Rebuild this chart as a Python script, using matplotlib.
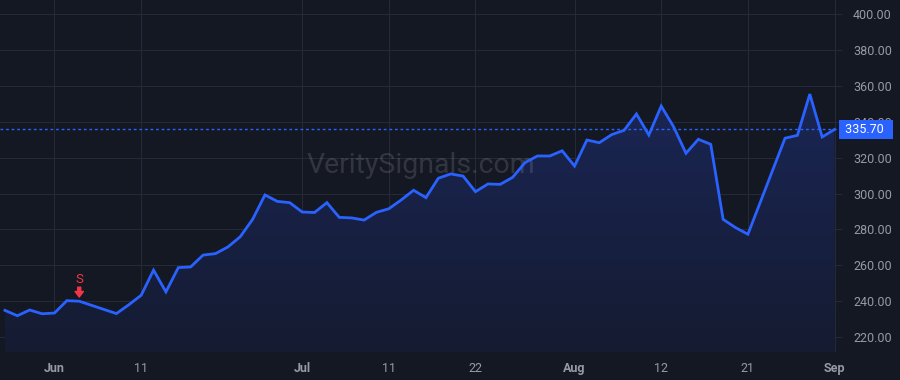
import matplotlib
matplotlib.use('Agg')
import matplotlib.pyplot as plt
import matplotlib.transforms as mtransforms
import numpy as np

# closing prices, one per trading session
prices = [234.9, 231.9, 235.1, 233.0, 233.4, 240.3, 240.0, 237.7, 235.4, 233.1,
          238.0, 243.3, 257.3, 245.2, 258.7, 259.1, 265.7, 266.5, 270.2, 275.9,
          285.6, 299.2, 295.6, 294.9, 289.7, 289.4, 294.9, 286.7, 286.4, 285.2,
          289.5, 291.5, 296.4, 301.8, 297.7, 308.5, 310.9, 309.7, 301.0, 305.3,
          305.1, 309.0, 317.2, 320.9, 320.9, 323.8, 315.3, 329.8, 328.3, 332.8,
          335.2, 344.3, 332.6, 348.7, 337.2, 322.4, 330.2, 327.4, 285.6, 281.0,
          277.3, 295.1, 313.0, 330.8, 332.4, 355.4, 331.5, 335.7]
tick_idx = [4, 11, 24, 31, 38, 46, 53, 60, 67]
tick_lbl = ['Jun', '11', 'Jul', '11', '22', 'Aug', '12', '21', 'Sep']
y_ticks = [220, 240, 260, 280, 300, 320, 340, 360, 380, 400]
last_price = 335.70
signal_idx = 6  # "S" marker

bg = '#141823'
grid_c = '#252a36'
line_c = '#2962ff'
text_c = '#959aa5'
red = '#f23645'

plt.rcParams['font.family'] = ['Roboto', 'DejaVu Sans']

fig = plt.figure(figsize=(9, 3.8), dpi=100, facecolor=bg)
ax = fig.add_axes([0, 28 / 380, 842 / 900, 352 / 380], facecolor=bg)

x = np.arange(len(prices))
ymin, ymax = 211.7, 407.8
ax.set_xlim(-0.4, 67.6)
ax.set_ylim(ymin, ymax)

# gradient fill under the line
poly = ax.fill_between(x, prices, ymin, color='none', lw=0)
grad = np.linspace(0, 1, 256).reshape(-1, 1)
cmap = matplotlib.colors.LinearSegmentedColormap.from_list('g', ['#151b31', '#1a2655'])
img = ax.imshow(grad, extent=[x[0], x[-1], ymin, max(prices)], origin='lower',
                aspect='auto', cmap=cmap, zorder=1)
img.set_clip_path(poly.get_paths()[0], transform=ax.transData)

ax.plot(x, prices, color=line_c, lw=2.0, zorder=3, solid_joinstyle='miter')

# last price line + label
ax.axhline(last_price, color=line_c, lw=1, ls=(0, (2, 2)), zorder=2)
trans = mtransforms.blended_transform_factory(ax.transAxes, ax.transData)
ax.text(1.0, last_price, ' 335.70  ', transform=trans, ha='left', va='center',
        color='white', fontsize=9, zorder=5, clip_on=False,
        bbox=dict(boxstyle='square,pad=0.22', fc=line_c, ec='none'))

# signal marker
sy = prices[signal_idx]
ax.annotate('', xy=(signal_idx, sy), xytext=(0, 14), textcoords='offset pixels',
            arrowprops=dict(arrowstyle='simple,head_length=0.4,head_width=0.6,tail_width=0.22',
                            color=red, shrinkA=0, shrinkB=3, mutation_scale=10), zorder=4)
ax.annotate('S', xy=(signal_idx, sy), xytext=(0, 22), textcoords='offset pixels',
            ha='center', va='center', color=red, fontsize=9.5, zorder=4)

# watermark
ax.text(0.5, 0.53, 'VeritySignals.com', transform=ax.transAxes, ha='center', va='center',
        fontsize=20.5, color='#ffffff', alpha=0.13, zorder=2)

# axes / grid
ax.set_xticks(tick_idx)
ax.set_xticklabels(tick_lbl)
for lbl, t in zip(ax.get_xticklabels(), tick_lbl):
    if not t.isdigit():
        lbl.set_fontweight('bold')
ax.set_yticks(y_ticks)
ax.set_yticklabels(['%.2f' % v for v in y_ticks])
ax.yaxis.tick_right()
ax.tick_params(axis='both', length=0, colors=text_c, labelsize=9)
ax.tick_params(axis='y', pad=8)
ax.tick_params(axis='x', pad=7)
ax.grid(True, color=grid_c, lw=0.8, zorder=0)
ax.set_axisbelow(True)
for s in ax.spines.values():
    s.set_visible(False)

fig.savefig('out.png', dpi=100, facecolor=bg)
